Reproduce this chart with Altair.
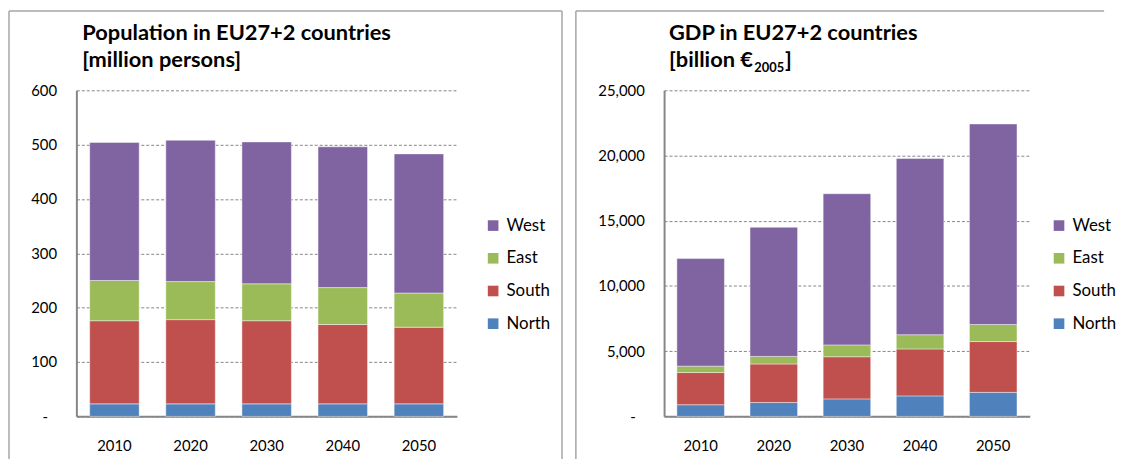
import altair as alt
import pandas as pd

years = ["2010", "2020", "2030", "2040", "2050"]
regions = ["West", "East", "South", "North"]
stack_rank = {"North": 0, "South": 1, "East": 2, "West": 3}
colors = ["#8064A2", "#9BBB59", "#C0504D", "#4F81BD"]

# Population [million persons]
pop_north = [23, 23, 23, 23, 23]
pop_south = [153, 155, 153, 146, 141]
pop_east = [74, 70, 68, 68, 63]
pop_west = [254, 260, 261, 259, 256]

# GDP [billion EUR 2005]
gdp_north = [890, 1060, 1340, 1570, 1840]
gdp_south = [2470, 2955, 3230, 3600, 3895]
gdp_east = [490, 580, 910, 1090, 1310]
gdp_west = [8250, 9900, 11590, 13510, 15375]

pop_ticks = [0, 100, 200, 300, 400, 500, 600]
gdp_ticks = [0, 5000, 10000, 15000, 20000, 25000]

pop_title = ["Population in EU27+2 countries", "[million persons]"]
gdp_title = ["GDP in EU27+2 countries", "[billion \u20ac", "2005", "]"]

FONT = "Lato"
BORDER = "#a6a6a6"


def long_table(north, south, east, west):
    rows = []
    for name, vals in [("North", north), ("South", south), ("East", east), ("West", west)]:
        for y, v in zip(years, vals):
            rows.append({"year": y, "region": name, "value": v, "ord": stack_rank[name]})
    return pd.DataFrame(rows)


def bars(df, ticks, legend_x):
    label_expr = "datum.value == 0 ? '-' : format(datum.value, ',')"
    return alt.Chart(df).mark_bar(stroke="#ffffff", strokeWidth=0.6, strokeOpacity=0.7).encode(
        x=alt.X("year:N", sort=years,
                scale=alt.Scale(paddingInner=0.35, paddingOuter=0.175),
                axis=alt.Axis(title=None, labelAngle=0, ticks=False, grid=False,
                              domainColor="#868686", domainWidth=2, labelPadding=22,
                              labelBaseline="top")),
        y=alt.Y("value:Q", stack="zero",
                scale=alt.Scale(domain=[ticks[0], ticks[-1]], nice=False),
                axis=alt.Axis(title=None, values=ticks, ticks=False, grid=True,
                              gridDash=[3, 2], gridColor="#868686", gridWidth=1,
                              domainColor="#868686", domainWidth=2,
                              labelPadding={"condition": {"test": "datum.value == 0", "value": 29},
                                            "value": 20},
                              labelExpr=label_expr)),
        color=alt.Color("region:N", scale=alt.Scale(domain=regions, range=colors),
                        legend=alt.Legend(title=None, orient="none", legendX=legend_x, legendY=128,
                                          symbolType="square", symbolSize=115, symbolStrokeWidth=0,
                                          symbolOpacity=1, labelFont=FONT, labelFontSize=17,
                                          labelColor="#000000", rowPadding=15, labelOffset=5,
                                          padding=0)),
        order=alt.Order("ord:Q"),
    )


def txt(s, x, y, size):
    return alt.Chart(pd.DataFrame({"t": [s]})).mark_text(
        align="left", baseline="alphabetic", fontSize=size, fontWeight="bold",
        font=FONT, color="#000000").encode(text="t:N", x=alt.value(x), y=alt.value(y))


def vline(x, y1, y2):
    return alt.Chart(pd.DataFrame({"k": [0]})).mark_rule(color=BORDER, strokeWidth=1.5).encode(
        x=alt.value(x), y=alt.value(y1), y2=alt.value(y2))


def hline(x1, x2, y):
    return alt.Chart(pd.DataFrame({"k": [0]})).mark_rule(color=BORDER, strokeWidth=1.5).encode(
        x=alt.value(x1), x2=alt.value(x2), y=alt.value(y))


pop_df = long_table(pop_north, pop_south, pop_east, pop_west)
gdp_df = long_table(gdp_north, gdp_south, gdp_east, gdp_west)

left = alt.layer(
    bars(pop_df, pop_ticks, 412),
    txt(pop_title[0], 6, -51, 22),
    txt(pop_title[1], 6, -24, 22),
    vline(-68, -80, 372),
    vline(490, -80, 372),
    hline(-68, 490, -80),
).properties(width=384, height=329)

right = alt.layer(
    bars(gdp_df, gdp_ticks, 390),
    txt(gdp_title[0], 5, -51, 22),
    txt(gdp_title[1], 5, -24, 22),
    txt(gdp_title[2], 91, -18, 13),
    txt(gdp_title[3], 122, -24, 22),
    vline(-89, -80, 372),
    hline(-89, 444, -80),
).properties(width=369, height=329)

chart = alt.hconcat(left, right, spacing=209, bounds="flush", padding=0).resolve_scale(
    x="independent", y="independent"
).resolve_legend(color="independent").configure_view(stroke=None).configure_axis(
    labelFont=FONT, labelFontSize=15, labelColor="#000000"
)

chart.save("out.html", embed_options={"renderer": "svg", "actions": False})
